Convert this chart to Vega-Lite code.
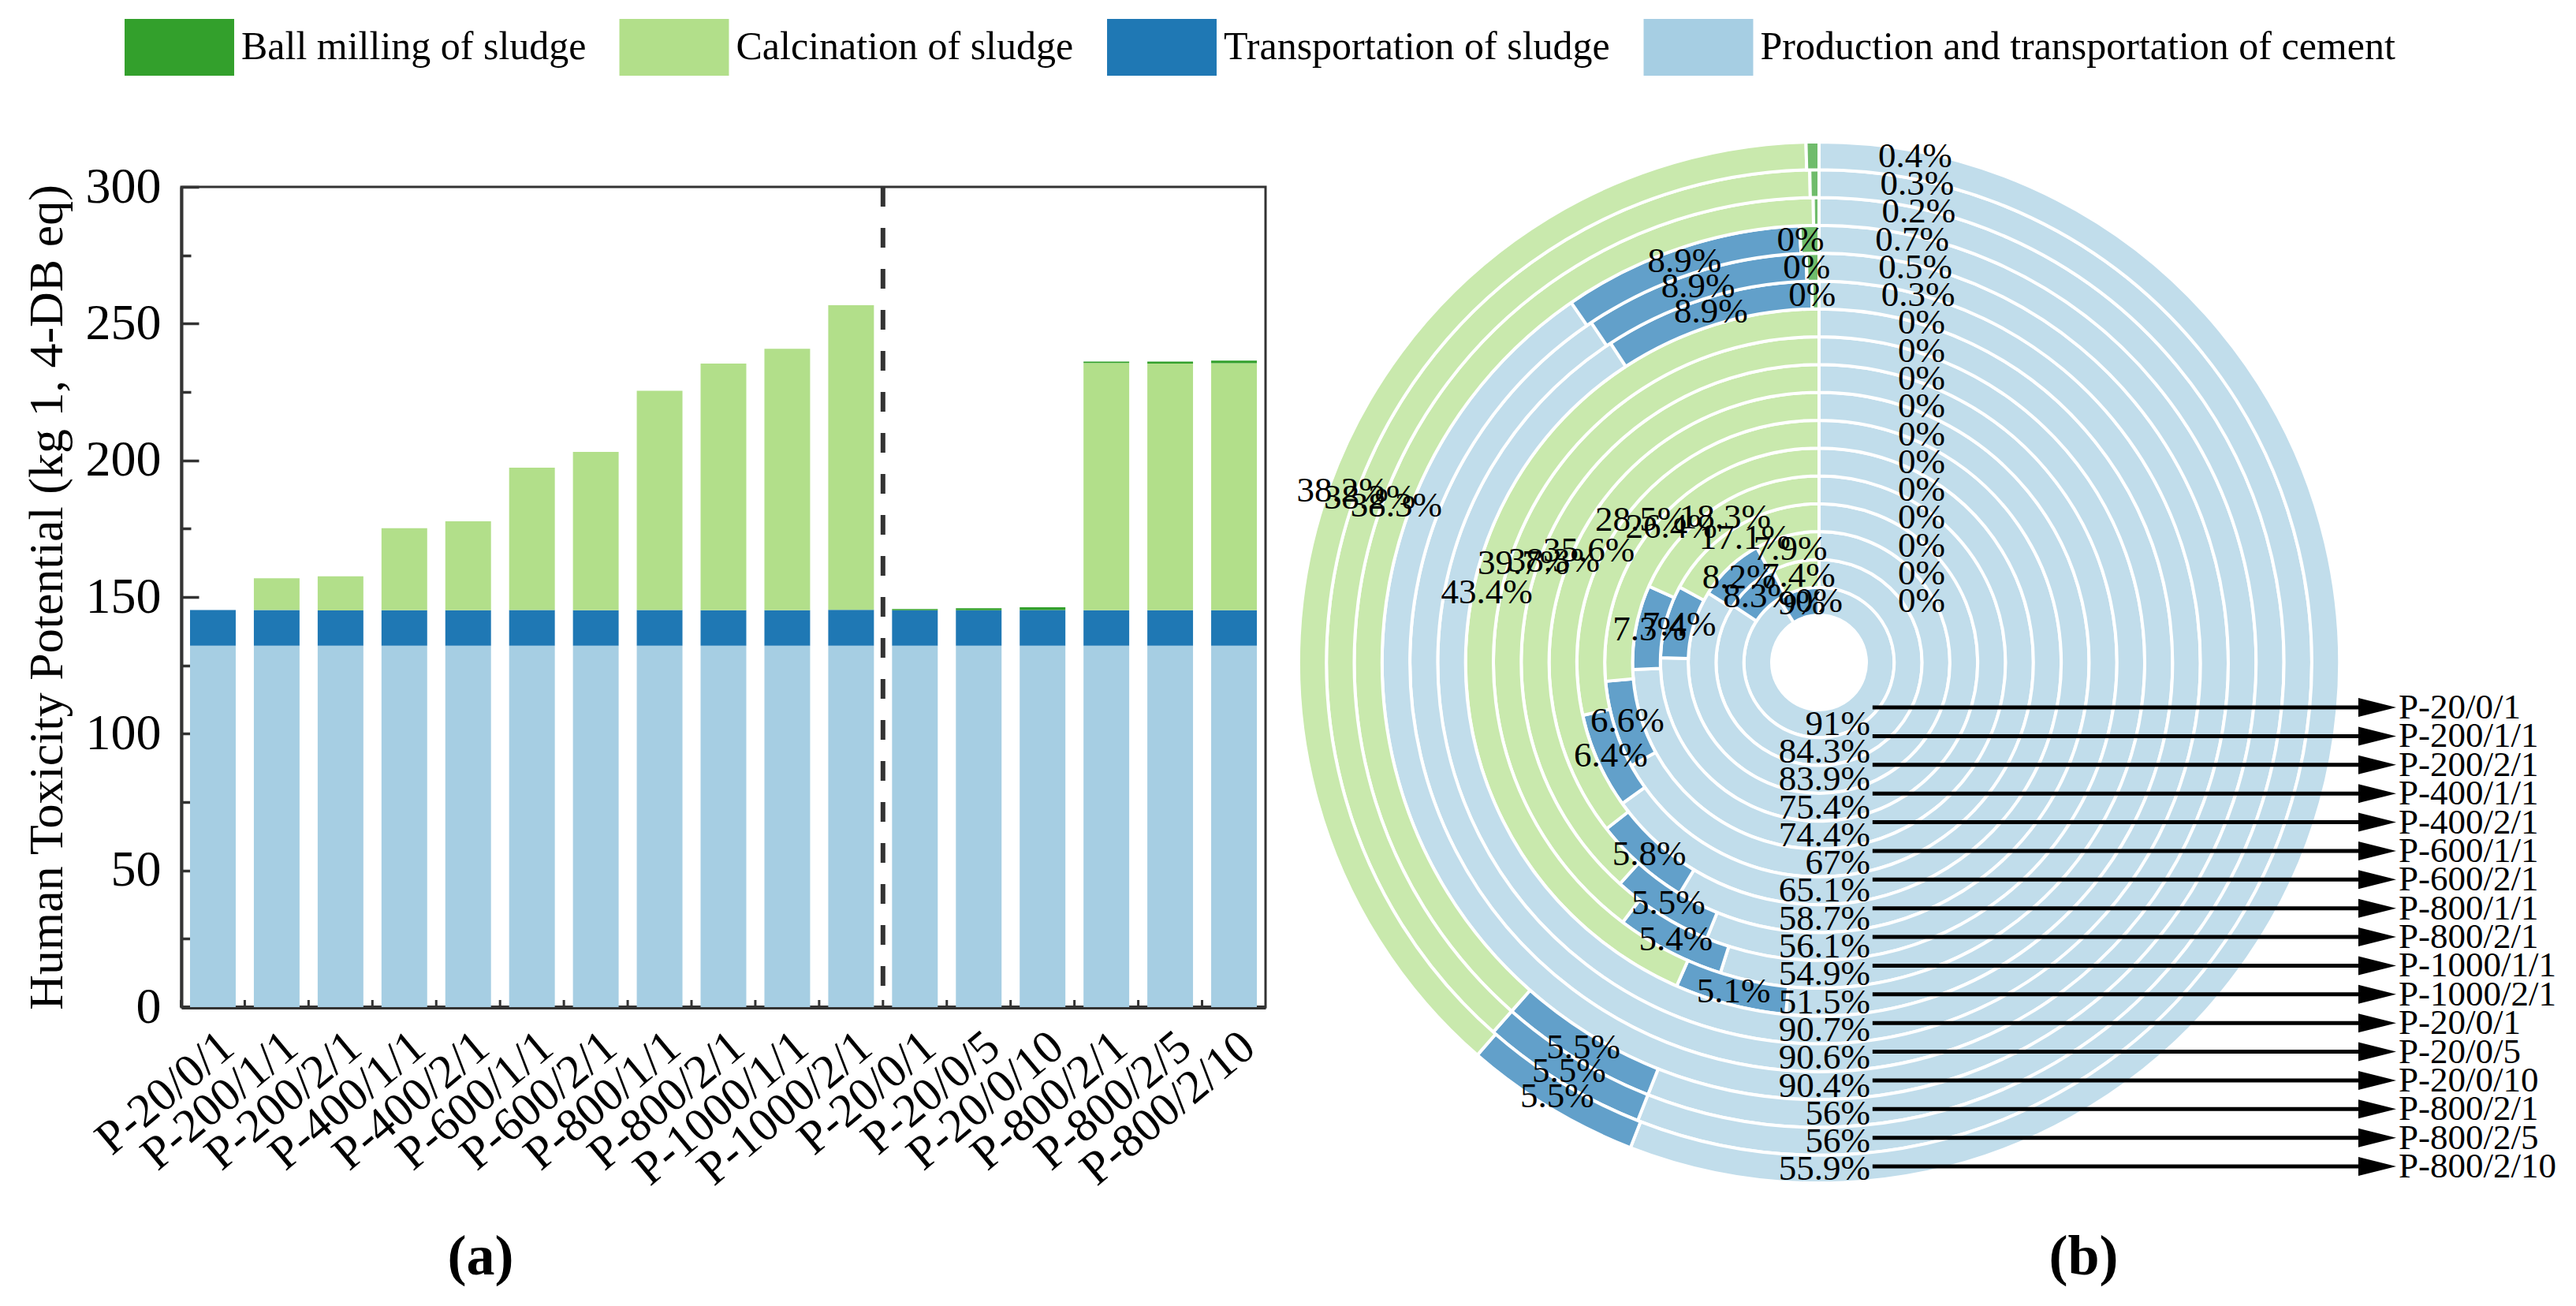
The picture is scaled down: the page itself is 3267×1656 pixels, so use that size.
{
  "$schema": "https://vega.github.io/schema/vega-lite/v6.json",
  "background": "white",
  "padding": {"left": 26, "top": 24, "right": 0, "bottom": 0},
  "autosize": {"type": "pad"},
  "bounds": "flush",
  "spacing": 37,
  "config": {"view": {"stroke": null}, "font": "Liberation Serif"},
  "data": {"values": [
    {"key": "P-20/0/1|1", "sample": "P-20/0/1", "ring": 1, "component": "Production and transportation of cement", "seq": 1, "value": 132.2, "frac": 0.91},
    {"key": "P-20/0/1|1", "sample": "P-20/0/1", "ring": 1, "component": "Transportation of sludge", "seq": 2, "value": 13.07, "frac": 0.09},
    {"key": "P-20/0/1|1", "sample": "P-20/0/1", "ring": 1, "component": "Calcination of sludge", "seq": 3, "value": 0, "frac": 0},
    {"key": "P-20/0/1|1", "sample": "P-20/0/1", "ring": 1, "component": "Ball milling of sludge", "seq": 4, "value": 0, "frac": 0},
    {"key": "P-200/1/1|1", "sample": "P-200/1/1", "ring": 2, "component": "Production and transportation of cement", "seq": 1, "value": 132.2, "frac": 0.843},
    {"key": "P-200/1/1|1", "sample": "P-200/1/1", "ring": 2, "component": "Transportation of sludge", "seq": 2, "value": 13.02, "frac": 0.083},
    {"key": "P-200/1/1|1", "sample": "P-200/1/1", "ring": 2, "component": "Calcination of sludge", "seq": 3, "value": 11.6, "frac": 0.074},
    {"key": "P-200/1/1|1", "sample": "P-200/1/1", "ring": 2, "component": "Ball milling of sludge", "seq": 4, "value": 0, "frac": 0},
    {"key": "P-200/2/1|1", "sample": "P-200/2/1", "ring": 3, "component": "Production and transportation of cement", "seq": 1, "value": 132.2, "frac": 0.839},
    {"key": "P-200/2/1|1", "sample": "P-200/2/1", "ring": 3, "component": "Transportation of sludge", "seq": 2, "value": 12.92, "frac": 0.082},
    {"key": "P-200/2/1|1", "sample": "P-200/2/1", "ring": 3, "component": "Calcination of sludge", "seq": 3, "value": 12.45, "frac": 0.079},
    {"key": "P-200/2/1|1", "sample": "P-200/2/1", "ring": 3, "component": "Ball milling of sludge", "seq": 4, "value": 0, "frac": 0},
    {"key": "P-400/1/1|1", "sample": "P-400/1/1", "ring": 4, "component": "Production and transportation of cement", "seq": 1, "value": 132.2, "frac": 0.754},
    {"key": "P-400/1/1|1", "sample": "P-400/1/1", "ring": 4, "component": "Transportation of sludge", "seq": 2, "value": 12.97, "frac": 0.074},
    {"key": "P-400/1/1|1", "sample": "P-400/1/1", "ring": 4, "component": "Calcination of sludge", "seq": 3, "value": 29.98, "frac": 0.171},
    {"key": "P-400/1/1|1", "sample": "P-400/1/1", "ring": 4, "component": "Ball milling of sludge", "seq": 4, "value": 0, "frac": 0},
    {"key": "P-400/2/1|1", "sample": "P-400/2/1", "ring": 5, "component": "Production and transportation of cement", "seq": 1, "value": 132.2, "frac": 0.744},
    {"key": "P-400/2/1|1", "sample": "P-400/2/1", "ring": 5, "component": "Transportation of sludge", "seq": 2, "value": 12.97, "frac": 0.073},
    {"key": "P-400/2/1|1", "sample": "P-400/2/1", "ring": 5, "component": "Calcination of sludge", "seq": 3, "value": 32.52, "frac": 0.183},
    {"key": "P-400/2/1|1", "sample": "P-400/2/1", "ring": 5, "component": "Ball milling of sludge", "seq": 4, "value": 0, "frac": 0},
    {"key": "P-600/1/1|1", "sample": "P-600/1/1", "ring": 6, "component": "Production and transportation of cement", "seq": 1, "value": 132.2, "frac": 0.67},
    {"key": "P-600/1/1|1", "sample": "P-600/1/1", "ring": 6, "component": "Transportation of sludge", "seq": 2, "value": 13.02, "frac": 0.066},
    {"key": "P-600/1/1|1", "sample": "P-600/1/1", "ring": 6, "component": "Calcination of sludge", "seq": 3, "value": 52.09, "frac": 0.264},
    {"key": "P-600/1/1|1", "sample": "P-600/1/1", "ring": 6, "component": "Ball milling of sludge", "seq": 4, "value": 0, "frac": 0},
    {"key": "P-600/2/1|1", "sample": "P-600/2/1", "ring": 7, "component": "Production and transportation of cement", "seq": 1, "value": 132.2, "frac": 0.651},
    {"key": "P-600/2/1|1", "sample": "P-600/2/1", "ring": 7, "component": "Transportation of sludge", "seq": 2, "value": 13.0, "frac": 0.064},
    {"key": "P-600/2/1|1", "sample": "P-600/2/1", "ring": 7, "component": "Calcination of sludge", "seq": 3, "value": 57.88, "frac": 0.285},
    {"key": "P-600/2/1|1", "sample": "P-600/2/1", "ring": 7, "component": "Ball milling of sludge", "seq": 4, "value": 0, "frac": 0},
    {"key": "P-800/1/1|1", "sample": "P-800/1/1", "ring": 8, "component": "Production and transportation of cement", "seq": 1, "value": 132.2, "frac": 0.587},
    {"key": "P-800/1/1|1", "sample": "P-800/1/1", "ring": 8, "component": "Transportation of sludge", "seq": 2, "value": 13.06, "frac": 0.058},
    {"key": "P-800/1/1|1", "sample": "P-800/1/1", "ring": 8, "component": "Calcination of sludge", "seq": 3, "value": 80.17, "frac": 0.356},
    {"key": "P-800/1/1|1", "sample": "P-800/1/1", "ring": 8, "component": "Ball milling of sludge", "seq": 4, "value": 0, "frac": 0},
    {"key": "P-800/2/1|1", "sample": "P-800/2/1", "ring": 9, "component": "Production and transportation of cement", "seq": 1, "value": 132.2, "frac": 0.561},
    {"key": "P-800/2/1|1", "sample": "P-800/2/1", "ring": 9, "component": "Transportation of sludge", "seq": 2, "value": 12.96, "frac": 0.055},
    {"key": "P-800/2/1|1", "sample": "P-800/2/1", "ring": 9, "component": "Calcination of sludge", "seq": 3, "value": 90.25, "frac": 0.383},
    {"key": "P-800/2/1|1", "sample": "P-800/2/1", "ring": 9, "component": "Ball milling of sludge", "seq": 4, "value": 0, "frac": 0},
    {"key": "P-1000/1/1|1", "sample": "P-1000/1/1", "ring": 10, "component": "Production and transportation of cement", "seq": 1, "value": 132.2, "frac": 0.549},
    {"key": "P-1000/1/1|1", "sample": "P-1000/1/1", "ring": 10, "component": "Transportation of sludge", "seq": 2, "value": 13.0, "frac": 0.054},
    {"key": "P-1000/1/1|1", "sample": "P-1000/1/1", "ring": 10, "component": "Calcination of sludge", "seq": 3, "value": 95.6, "frac": 0.397},
    {"key": "P-1000/1/1|1", "sample": "P-1000/1/1", "ring": 10, "component": "Ball milling of sludge", "seq": 4, "value": 0, "frac": 0},
    {"key": "P-1000/2/1|1", "sample": "P-1000/2/1", "ring": 11, "component": "Production and transportation of cement", "seq": 1, "value": 132.2, "frac": 0.515},
    {"key": "P-1000/2/1|1", "sample": "P-1000/2/1", "ring": 11, "component": "Transportation of sludge", "seq": 2, "value": 13.09, "frac": 0.051},
    {"key": "P-1000/2/1|1", "sample": "P-1000/2/1", "ring": 11, "component": "Calcination of sludge", "seq": 3, "value": 111.41, "frac": 0.434},
    {"key": "P-1000/2/1|1", "sample": "P-1000/2/1", "ring": 11, "component": "Ball milling of sludge", "seq": 4, "value": 0, "frac": 0},
    {"key": "P-20/0/1|2", "sample": "P-20/0/1", "ring": 12, "component": "Production and transportation of cement", "seq": 1, "value": 132.2, "frac": 0.907},
    {"key": "P-20/0/1|2", "sample": "P-20/0/1", "ring": 12, "component": "Transportation of sludge", "seq": 2, "value": 12.97, "frac": 0.089},
    {"key": "P-20/0/1|2", "sample": "P-20/0/1", "ring": 12, "component": "Calcination of sludge", "seq": 3, "value": 0, "frac": 0},
    {"key": "P-20/0/1|2", "sample": "P-20/0/1", "ring": 12, "component": "Ball milling of sludge", "seq": 4, "value": 0.44, "frac": 0.003},
    {"key": "P-20/0/5|2", "sample": "P-20/0/5", "ring": 13, "component": "Production and transportation of cement", "seq": 1, "value": 132.2, "frac": 0.906},
    {"key": "P-20/0/5|2", "sample": "P-20/0/5", "ring": 13, "component": "Transportation of sludge", "seq": 2, "value": 12.99, "frac": 0.089},
    {"key": "P-20/0/5|2", "sample": "P-20/0/5", "ring": 13, "component": "Calcination of sludge", "seq": 3, "value": 0, "frac": 0},
    {"key": "P-20/0/5|2", "sample": "P-20/0/5", "ring": 13, "component": "Ball milling of sludge", "seq": 4, "value": 0.73, "frac": 0.005},
    {"key": "P-20/0/10|2", "sample": "P-20/0/10", "ring": 14, "component": "Production and transportation of cement", "seq": 1, "value": 132.2, "frac": 0.904},
    {"key": "P-20/0/10|2", "sample": "P-20/0/10", "ring": 14, "component": "Transportation of sludge", "seq": 2, "value": 13.02, "frac": 0.089},
    {"key": "P-20/0/10|2", "sample": "P-20/0/10", "ring": 14, "component": "Calcination of sludge", "seq": 3, "value": 0, "frac": 0},
    {"key": "P-20/0/10|2", "sample": "P-20/0/10", "ring": 14, "component": "Ball milling of sludge", "seq": 4, "value": 1.02, "frac": 0.007},
    {"key": "P-800/2/1|2", "sample": "P-800/2/1", "ring": 15, "component": "Production and transportation of cement", "seq": 1, "value": 132.2, "frac": 0.56},
    {"key": "P-800/2/1|2", "sample": "P-800/2/1", "ring": 15, "component": "Transportation of sludge", "seq": 2, "value": 12.98, "frac": 0.055},
    {"key": "P-800/2/1|2", "sample": "P-800/2/1", "ring": 15, "component": "Calcination of sludge", "seq": 3, "value": 90.42, "frac": 0.383},
    {"key": "P-800/2/1|2", "sample": "P-800/2/1", "ring": 15, "component": "Ball milling of sludge", "seq": 4, "value": 0.47, "frac": 0.002},
    {"key": "P-800/2/5|2", "sample": "P-800/2/5", "ring": 16, "component": "Production and transportation of cement", "seq": 1, "value": 132.2, "frac": 0.56},
    {"key": "P-800/2/5|2", "sample": "P-800/2/5", "ring": 16, "component": "Transportation of sludge", "seq": 2, "value": 12.98, "frac": 0.055},
    {"key": "P-800/2/5|2", "sample": "P-800/2/5", "ring": 16, "component": "Calcination of sludge", "seq": 3, "value": 90.18, "frac": 0.382},
    {"key": "P-800/2/5|2", "sample": "P-800/2/5", "ring": 16, "component": "Ball milling of sludge", "seq": 4, "value": 0.71, "frac": 0.003},
    {"key": "P-800/2/10|2", "sample": "P-800/2/10", "ring": 17, "component": "Production and transportation of cement", "seq": 1, "value": 132.2, "frac": 0.559},
    {"key": "P-800/2/10|2", "sample": "P-800/2/10", "ring": 17, "component": "Transportation of sludge", "seq": 2, "value": 13.0, "frac": 0.055},
    {"key": "P-800/2/10|2", "sample": "P-800/2/10", "ring": 17, "component": "Calcination of sludge", "seq": 3, "value": 90.34, "frac": 0.382},
    {"key": "P-800/2/10|2", "sample": "P-800/2/10", "ring": 17, "component": "Ball milling of sludge", "seq": 4, "value": 0.95, "frac": 0.004}
  ]},
  "hconcat": [
    {
      "width": 1375,
      "height": 1040,
      "view": {"stroke": "#333", "strokeWidth": 3},
      "encoding": {
        "x": {
          "field": "key", "type": "nominal", "sort": null,
          "scale": {"paddingInner": 0.284, "paddingOuter": 0.136},
          "axis": {
            "labelExpr": "split(datum.label, '|')[0]",
            "labelAngle": -40, "labelFont": "Liberation Serif", "labelFontSize": 60, "labelColor": "black",
            "labelPadding": 40, "labelLimit": 1000, "labelOverlap": false,
            "tickSize": -20, "tickWidth": 4, "tickColor": "#333",
            "domainWidth": 5, "domainColor": "#333", "grid": false,
            "title": "(a)", "titleFont": "Liberation Serif", "titleFontSize": 72, "titleFontWeight": "bold", "titleColor": "black",
            "titleX": 379, "titleY": 316, "titleBaseline": "middle", "titleAlign": "center", "titleAngle": 0
          }
        }
      },
      "layer": [
        {
          "mark": {"type": "bar"},
          "encoding": {
            "y": {
              "field": "value", "type": "quantitative", "stack": "zero",
              "scale": {"domain": [0, 300], "nice": false},
              "axis": {
                "values": [0, 25, 50, 75, 100, 125, 150, 175, 200, 225, 250, 275, 300],
                "labelExpr": "datum.value % 50 === 0 ? datum.label : ''",
                "labelFont": "Liberation Serif", "labelFontSize": 64, "labelColor": "black",
                "labelPadding": 48, "labelOverlap": false,
                "tickSize": {"condition": {"test": "datum.value % 50 === 0", "value": -22}, "value": -12},
                "tickWidth": 3.5, "tickColor": "#333",
                "domainWidth": 4, "domainColor": "#333", "grid": false,
                "title": "Human Toxicity Potential (kg 1, 4-DB eq)",
                "titleFont": "Liberation Serif", "titleFontSize": 62, "titleFontWeight": "normal", "titleColor": "black",
                "titleX": -171, "titleBaseline": "middle", "titleLimit": 3000
              }
            },
            "color": {
              "field": "component", "type": "nominal",
              "scale": {
                "domain": ["Ball milling of sludge", "Calcination of sludge", "Transportation of sludge", "Production and transportation of cement"],
                "range": ["#33a02c", "#b2df8a", "#1f78b4", "#a6cee3"]
              },
              "legend": {
                "orient": "none", "legendX": -38.5, "legendY": -213, "direction": "horizontal", "title": null,
                "symbolType": "M-1.93,-1L1.93,-1L1.93,1L-1.93,1Z", "symbolSize": 5184, "symbolStrokeWidth": 0, "symbolOpacity": 1,
                "labelFont": "Liberation Serif", "labelFontSize": 50, "labelColor": "black",
                "labelOffset": 42.5, "labelLimit": 3000, "columnPadding": 41.5, "padding": 0
              }
            },
            "order": {"field": "seq", "type": "quantitative"}
          }
        },
        {
          "transform": [{"filter": "datum.seq === 1"}],
          "mark": {"type": "rule", "xOffset": -40.5, "color": "#333", "strokeWidth": 3},
          "encoding": {"y": {"datum": 0}, "y2": {"datum": 2.6}}
        },
        {
          "transform": [{"filter": "datum.seq === 1 && datum.ring === 12"}],
          "mark": {"type": "rule", "xOffset": -40.5, "strokeDash": [25, 27], "strokeWidth": 6, "color": "#333"},
          "encoding": {}
        }
      ]
    },
    {
      "width": 1330,
      "height": 1206,
      "view": {"stroke": null},
      "layer": [
        {
          "mark": {"type": "arc", "stroke": "white", "strokeWidth": 4, "fillOpacity": 0.7, "radius2Offset": -35.3},
          "encoding": {
            "theta": {"field": "frac", "type": "quantitative", "stack": "normalize", "scale": {"domain": [0, 1]}},
            "radius": {"field": "ring", "type": "quantitative", "scale": {"type": "linear", "domain": [0, 17], "range": [60, 660.1], "zero": false}},
            "radius2": {"field": "ring"},
            "color": {
              "field": "component", "type": "nominal",
              "scale": {
                "domain": ["Ball milling of sludge", "Calcination of sludge", "Transportation of sludge", "Production and transportation of cement"],
                "range": ["#33a02c", "#b2df8a", "#1f78b4", "#a6cee3"]
              },
              "legend": {
                "orient": "none", "legendX": -38.5, "legendY": -213, "direction": "horizontal", "title": null,
                "symbolType": "M-1.93,-1L1.93,-1L1.93,1L-1.93,1Z", "symbolSize": 5184, "symbolStrokeWidth": 0, "symbolOpacity": 1,
                "labelFont": "Liberation Serif", "labelFontSize": 50, "labelColor": "black",
                "labelOffset": 42.5, "labelLimit": 3000, "columnPadding": 41.5, "padding": 0
              }
            },
            "order": {"field": "seq", "type": "quantitative"}
          }
        },
        {
          "transform": [{"filter": "datum.seq === 1"}],
          "mark": {"type": "rule", "color": "black", "strokeWidth": 5},
          "encoding": {
            "x": {
              "datum": 0.551, "type": "quantitative",
              "scale": {"domain": [0, 1], "nice": false, "zero": false},
              "axis": {
                "title": "(b)", "domain": false, "ticks": false, "labels": false, "grid": false,
                "titleFont": "Liberation Serif", "titleFontSize": 72, "titleFontWeight": "bold", "titleColor": "black",
                "titleX": 1000, "titleY": 150, "titleBaseline": "middle", "titleAlign": "center", "titleAngle": 0
              }
            },
            "x2": {"datum": 1.0188},
            "y": {"field": "ring", "type": "quantitative", "scale": {"domain": [1, 17], "range": [660, 1242], "nice": false, "zero": false}, "axis": null}
          }
        },
        {
          "transform": [{"filter": "datum.seq === 1"}],
          "mark": {"type": "point", "shape": "M-1,-0.5L1,0L-1,0.5Z", "size": 2304, "filled": true, "color": "black", "opacity": 1, "strokeWidth": 0},
          "encoding": {
            "x": {"datum": 1.0323, "type": "quantitative"},
            "y": {"field": "ring", "type": "quantitative"}
          }
        },
        {
          "transform": [{"filter": "datum.seq === 1"}],
          "mark": {"type": "text", "align": "left", "baseline": "middle", "fontSize": 45, "font": "Liberation Serif", "color": "black"},
          "encoding": {
            "x": {"datum": 1.0526, "type": "quantitative"},
            "y": {"field": "ring", "type": "quantitative"},
            "text": {"field": "sample", "type": "nominal"}
          }
        },
        {
          "mark": {"type": "text", "radiusOffset": -17.65, "fontSize": 45, "font": "Liberation Serif", "color": "black",
                   "dx": {"expr": "datum.component === 'Ball milling of sludge' ? 130 : 0"}},
          "encoding": {
            "theta": {"field": "frac", "type": "quantitative", "stack": "normalize"},
            "radius": {"field": "ring", "type": "quantitative"},
            "detail": {"field": "component", "type": "nominal"},
            "order": {"field": "seq", "type": "quantitative"},
            "text": {"field": "frac", "type": "quantitative", "format": ".1~%", "condition": {"test": "datum.seq === 1", "value": ""}}
          }
        },
        {
          "transform": [{"filter": "datum.seq === 1"}],
          "mark": {"type": "text", "radiusOffset": -17.65, "fontSize": 45, "font": "Liberation Serif", "color": "black", "align": "right", "baseline": "middle", "dx": 65},
          "encoding": {
            "theta": {"datum": 0.5, "type": "quantitative"},
            "radius": {"field": "ring", "type": "quantitative"},
            "text": {"field": "frac", "type": "quantitative", "format": ".1~%"}
          }
        }
      ]
    }
  ]
}
